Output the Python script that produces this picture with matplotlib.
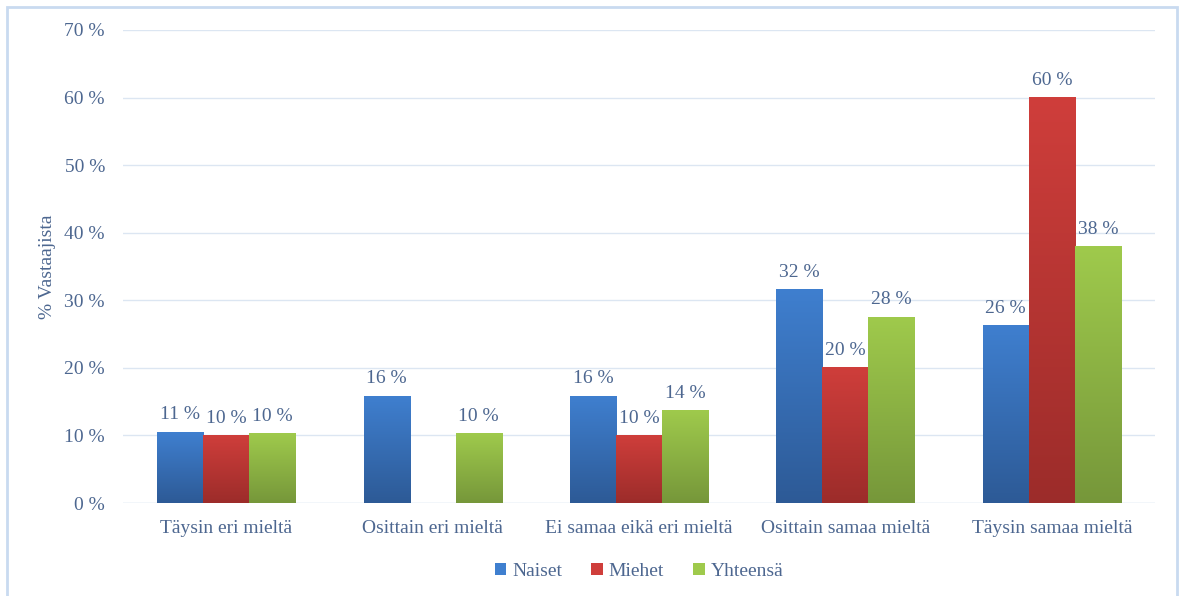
import numpy as np
import matplotlib
matplotlib.use('Agg')
from matplotlib import pyplot as plt
from matplotlib.colors import LinearSegmentedColormap
from matplotlib.patches import Rectangle

categories = ['Täysin eri mieltä', 'Osittain eri mieltä', 'Ei samaa eikä eri mieltä',
              'Osittain samaa mieltä', 'Täysin samaa mieltä']
naiset = [10.5, 15.8, 15.8, 31.6, 26.2]
miehet = [10.0, 0.0, 10.0, 20.0, 60.0]
yhteensa = [10.3, 10.3, 13.7, 27.5, 37.9]
naiset_lbl = ['11 %', '16 %', '16 %', '32 %', '26 %']
miehet_lbl = ['10 %', '', '10 %', '20 %', '60 %']
yhteensa_lbl = ['10 %', '10 %', '14 %', '28 %', '38 %']
series_names = ['Naiset', 'Miehet', 'Yhteensä']

txt = '#4d6790'
font = 'Liberation Serif'
plt.rcParams['font.family'] = font
fs = 14

fig = plt.figure(figsize=(11.84, 5.96), dpi=100)
ax = fig.add_axes([0.1039, 0.156, 0.8716, 0.7937])

# colours: (top, bottom) for gradient
colors = [('#3f7fcf', '#2d5a96'), ('#cf3e3b', '#9c2c2a'), ('#9fca4c', '#76973a')]
x = np.arange(len(categories))
w = 0.223
data = [naiset, miehet, yhteensa]
labels = [naiset_lbl, miehet_lbl, yhteensa_lbl]

for i, (vals, lbls, (ctop, cbot), name) in enumerate(zip(data, labels, colors, series_names)):
    pos = x + (i - 1) * w
    bars = ax.bar(pos, vals, w, color=ctop, label=name, zorder=2)
    cmap = LinearSegmentedColormap.from_list('g%d' % i, [cbot, ctop])
    grad = np.linspace(0, 1, 256).reshape(-1, 1)
    for b, lab in zip(bars, lbls):
        h = b.get_height()
        if h <= 0:
            continue
        ax.imshow(grad, cmap=cmap, origin='lower', aspect='auto', zorder=3,
                  extent=(b.get_x(), b.get_x() + b.get_width(), 0, h))
        ax.text(b.get_x() + b.get_width() / 2, h + 1.3, lab, ha='center', va='bottom',
                fontsize=fs, color=txt)

ax.set_xlim(-0.5, 4.5)
ax.set_ylim(0, 70)
ax.set_yticks(np.arange(0, 71, 10))
ax.set_yticklabels(['%d %%' % v for v in range(0, 71, 10)], fontsize=fs, color=txt)
ax.set_xticks(x)
ax.set_xticklabels(categories, fontsize=fs, color=txt)
ax.tick_params(length=0, pad=12)
ax.tick_params(axis='y', pad=13)
ax.grid(axis='y', color='#dce6f2', linewidth=1, zorder=0)
for s in ax.spines.values():
    s.set_visible(False)
ax.axhline(0, color='#dce6f2', linewidth=1, zorder=1)
ax.set_ylabel('% Vastaajista', fontsize=fs, color=txt, labelpad=6)

leg = ax.legend(loc='upper center', bbox_to_anchor=(0.5, -0.09), ncol=3, frameon=False,
                fontsize=fs, handlelength=0.6, handleheight=0.6, handletextpad=0.3,
                columnspacing=1.5)
for t in leg.get_texts():
    t.set_color(txt)

fig.patches.append(Rectangle((0.006, -0.05), 0.988, 1.038, transform=fig.transFigure,
                             fill=False, edgecolor='#c9daf0', linewidth=2))

fig.savefig('out.png', dpi=100)
